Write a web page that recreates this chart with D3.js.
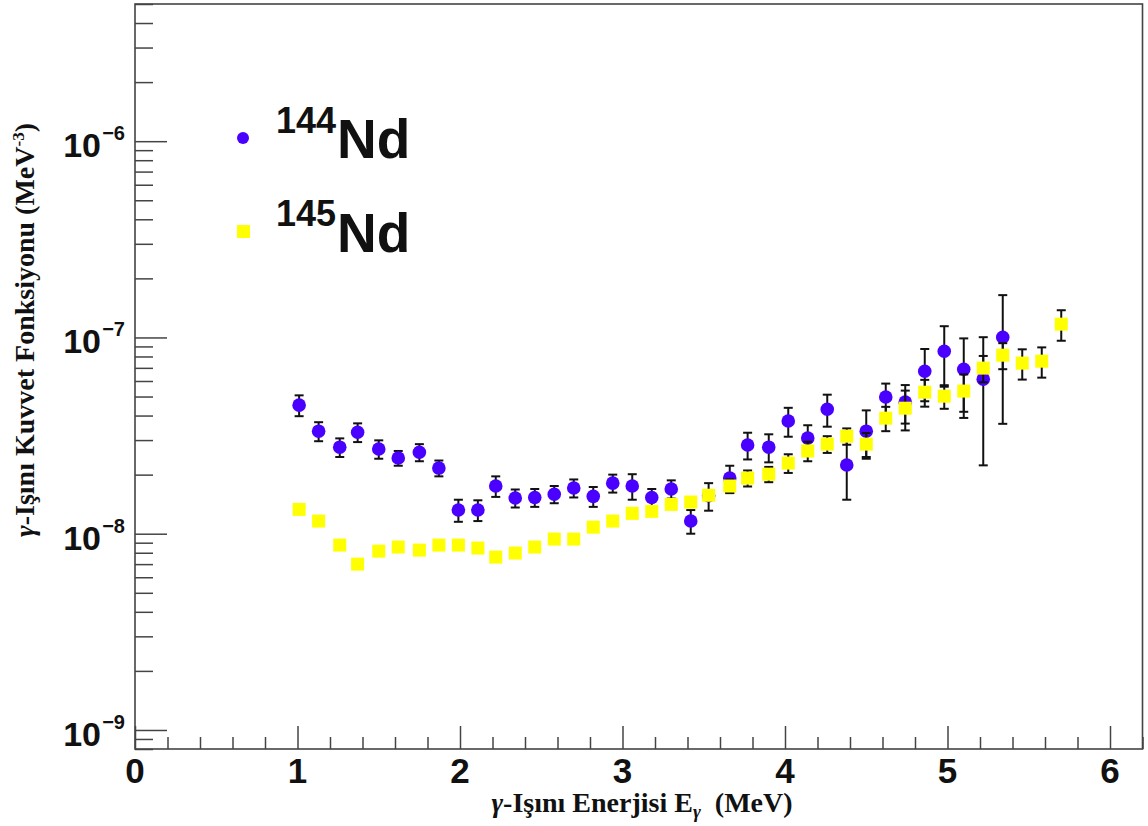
<!DOCTYPE html>
<html>
<head>
<meta charset="utf-8">
<script src="https://cdn.jsdelivr.net/npm/d3@7"></script>
<style>
  html, body { margin: 0; padding: 0; background: #fff; }
  svg { display: block; }
</style>
</head>
<body>
<svg id="chart" width="1148" height="826"></svg>
<script>
// ---- data ----
const energy144 = [1.01,1.13,1.26,1.37,1.50,1.62,1.75,1.87,1.99,2.11,2.22,2.34,2.46,2.58,2.70,2.82,2.94,3.06,3.18,3.30,3.42,3.53,3.66,3.77,3.90,4.02,4.14,4.26,4.38,4.50,4.62,4.74,4.86,4.98,5.10,5.22,5.34];
const values144 = [4.52e-8,3.33e-8,2.76e-8,3.29e-8,2.70e-8,2.43e-8,2.60e-8,2.16e-8,1.32e-8,1.32e-8,1.75e-8,1.52e-8,1.53e-8,1.59e-8,1.71e-8,1.55e-8,1.81e-8,1.75e-8,1.53e-8,1.69e-8,1.16e-8,1.56e-8,1.92e-8,2.83e-8,2.76e-8,3.75e-8,3.07e-8,4.31e-8,2.24e-8,3.33e-8,4.97e-8,4.68e-8,6.73e-8,8.51e-8,6.89e-8,6.13e-8,1.003e-7];
const errors144 = [0.55e-8,0.37e-8,0.30e-8,0.36e-8,0.29e-8,0.21e-8,0.26e-8,0.20e-8,0.17e-8,0.16e-8,0.21e-8,0.16e-8,0.16e-8,0.16e-8,0.18e-8,0.18e-8,0.19e-8,0.26e-8,0.16e-8,0.18e-8,0.16e-8,0.25e-8,0.30e-8,0.44e-8,0.45e-8,0.63e-8,0.50e-8,0.80e-8,0.75e-8,0.92e-8,0.85e-8,1.04e-8,2.0e-8,2.9e-8,3.0e-8,3.9e-8,6.4e-8];

const energy145 = [1.01,1.13,1.26,1.37,1.50,1.62,1.75,1.87,1.99,2.11,2.22,2.34,2.46,2.58,2.70,2.82,2.94,3.06,3.18,3.30,3.42,3.53,3.66,3.77,3.90,4.02,4.14,4.26,4.38,4.50,4.62,4.74,4.86,4.98,5.10,5.22,5.34,5.46,5.58,5.70];
const values145 = [1.33e-8,1.16e-8,0.875e-8,0.70e-8,0.815e-8,0.855e-8,0.825e-8,0.875e-8,0.875e-8,0.845e-8,0.76e-8,0.797e-8,0.855e-8,0.939e-8,0.939e-8,1.08e-8,1.16e-8,1.27e-8,1.30e-8,1.41e-8,1.45e-8,1.57e-8,1.75e-8,1.92e-8,2.01e-8,2.29e-8,2.64e-8,2.86e-8,3.14e-8,2.86e-8,3.88e-8,4.36e-8,5.26e-8,5.02e-8,5.33e-8,6.98e-8,8.12e-8,7.40e-8,7.57e-8,1.169e-7];
const errors145 = [0.04e-8,0.04e-8,0.03e-8,0.03e-8,0.03e-8,0.03e-8,0.03e-8,0.03e-8,0.03e-8,0.03e-8,0.03e-8,0.03e-8,0.03e-8,0.04e-8,0.04e-8,0.04e-8,0.05e-8,0.05e-8,0.05e-8,0.06e-8,0.07e-8,0.08e-8,0.14e-8,0.18e-8,0.18e-8,0.25e-8,0.30e-8,0.28e-8,0.30e-8,0.40e-8,0.55e-8,1.0e-8,0.82e-8,0.69e-8,1.15e-8,1.07e-8,1.23e-8,1.3e-8,1.33e-8,2.07e-8];

const xTickValues = [0,1,2,3,4,5,6];
const yTickExponents = [-9,-8,-7,-6];
const legendLabels = [{mass:"144", elem:"Nd"}, {mass:"145", elem:"Nd"}];
const xTitle = "γ-Işını Enerjisi E";
const yTitle = "γ-Işını Kuvvet Fonksiyonu (MeV";

// ---- layout ----
const svg = d3.select("#chart");
const L = 135, R = 1142.5, T = 4, B = 749;
const x = d3.scaleLinear().domain([0, 6.2]).range([L, R]);
const y = d3.scaleLog().domain([8e-10, 5e-6]).range([B, T]);

const axisColor = "#444";
const blue = "#4a00ff";
const yellow = "#ffff00";
const sans = "'Liberation Sans', Arial, Helvetica, sans-serif";
const serif = "'Liberation Serif', 'Times New Roman', serif";

// frame
svg.append("rect").attr("x", L).attr("y", T).attr("width", R - L).attr("height", B - T)
  .attr("fill", "none").attr("stroke", axisColor).attr("stroke-width", 1.6);

// x axis ticks
const xMinor = d3.range(0, 6.21, 0.2).map(v => +v.toFixed(1)).filter(v => Math.abs(v - Math.round(v)) > 1e-6);
const xAxisMajor = d3.axisBottom(x).tickValues(xTickValues).tickSize(-23).tickFormat("");
const xAxisMinor = d3.axisBottom(x).tickValues(xMinor).tickSize(-12).tickFormat("");
[xAxisMajor, xAxisMinor].forEach(ax => {
  const g = svg.append("g").attr("transform", `translate(0,${B})`).call(ax);
  g.select(".domain").remove();
  g.selectAll("line").attr("stroke", axisColor).attr("stroke-width", 1.5);
});
svg.append("g").selectAll("text").data(xTickValues).join("text")
  .attr("x", d => x(d)).attr("y", 783)
  .attr("text-anchor", "middle")
  .attr("font-family", sans).attr("font-weight", "bold").attr("font-size", 35)
  .attr("fill", "#111")
  .text(d => d);

// y axis ticks
const yMajor = yTickExponents.map(e => Math.pow(10, e));
const yMinor = [];
[-10, -9, -8, -7, -6].forEach(e => {
  for (let m = 2; m <= 9; m++) {
    const v = m * Math.pow(10, e);
    if (v >= 8e-10 && v <= 5e-6) yMinor.push(v);
  }
});
const yAxisMajor = d3.axisLeft(y).tickValues(yMajor).tickSize(-32).tickFormat("");
const yAxisMinor = d3.axisLeft(y).tickValues(yMinor).tickSize(-18).tickFormat("");
[yAxisMajor, yAxisMinor].forEach(ax => {
  const g = svg.append("g").attr("transform", `translate(${L},0)`).call(ax);
  g.select(".domain").remove();
  g.selectAll("line").attr("stroke", axisColor).attr("stroke-width", 1.5);
});
const yLab = svg.append("g").selectAll("g").data(yTickExponents).join("g")
  .attr("transform", e => `translate(0,${y(Math.pow(10, e))})`);
yLab.append("text")
  .attr("x", 101).attr("y", 16).attr("text-anchor", "end")
  .attr("font-family", sans).attr("font-weight", "bold").attr("font-size", 34)
  .attr("fill", "#111").text("10");
yLab.append("text")
  .attr("x", 125).attr("y", -1).attr("text-anchor", "end")
  .attr("font-family", sans).attr("font-weight", "bold").attr("font-size", 20)
  .attr("fill", "#111").text(e => "\u2212" + Math.abs(e));

// axis titles
const xt = svg.append("text").attr("x", 642).attr("y", 812).attr("text-anchor", "middle")
  .attr("font-family", serif).attr("font-weight", "bold").attr("font-size", 28).attr("fill", "#111");
xt.append("tspan").attr("font-style", "italic").text("γ");
xt.append("tspan").text(xTitle.slice(1));
xt.append("tspan").attr("font-style", "italic").attr("font-size", 19).attr("dy", 6).text("γ");
xt.append("tspan").attr("dy", -6).text("\u00a0\u00a0(MeV)");

const yt = svg.append("text").attr("transform", "translate(34,330) rotate(-90)").attr("text-anchor", "middle")
  .attr("font-family", serif).attr("font-weight", "bold").attr("font-size", 28).attr("fill", "#111");
yt.append("tspan").attr("font-style", "italic").text("γ");
yt.append("tspan").text(yTitle.slice(1));
yt.append("tspan").attr("font-size", 17).attr("dy", -10).text("-3");
yt.append("tspan").attr("dy", 10).text(")");

// data helpers
function drawErrors(energies, values, errors) {
  const g = svg.append("g").attr("stroke", "#111").attr("stroke-width", 2);
  energies.forEach((e, i) => {
    const v = values[i], er = errors[i];
    const y1 = y(v + er), y2 = y(Math.max(v - er, 8e-10));
    const cx = x(e);
    g.append("line").attr("x1", cx).attr("x2", cx).attr("y1", y1).attr("y2", y2);
    g.append("line").attr("x1", cx - 4.5).attr("x2", cx + 4.5).attr("y1", y1).attr("y2", y1);
    g.append("line").attr("x1", cx - 4.5).attr("x2", cx + 4.5).attr("y1", y2).attr("y2", y2);
  });
}

const data144 = energy144.map((e, i) => ({e, v: values144[i]}));
const data145 = energy145.map((e, i) => ({e, v: values145[i]}));

drawErrors(energy144, values144, errors144);
svg.append("g").selectAll("circle").data(data144).join("circle")
  .attr("cx", d => x(d.e)).attr("cy", d => y(d.v)).attr("r", 6.8).attr("fill", blue);

drawErrors(energy145, values145, errors145);
svg.append("g").selectAll("rect").data(data145).join("rect")
  .attr("x", d => x(d.e) - 6.5).attr("y", d => y(d.v) - 6.5)
  .attr("width", 13).attr("height", 13).attr("fill", yellow);

// legend
const lg = svg.append("g");
lg.append("circle").attr("cx", 243).attr("cy", 138).attr("r", 6).attr("fill", blue);
lg.append("rect").attr("x", 237).attr("y", 225).attr("width", 13).attr("height", 13).attr("fill", yellow);
const legY = [{sup: 133, base: 158}, {sup: 226, base: 252}];
legendLabels.forEach((lab, i) => {
  const t = lg.append("text").attr("font-family", sans).attr("font-weight", "bold").attr("fill", "#111");
  t.append("tspan").attr("x", 276).attr("y", legY[i].sup).attr("font-size", 36).text(lab.mass);
  t.append("tspan").attr("x", 337).attr("y", legY[i].base).attr("font-size", 55).text(lab.elem);
});
</script>
</body>
</html>
